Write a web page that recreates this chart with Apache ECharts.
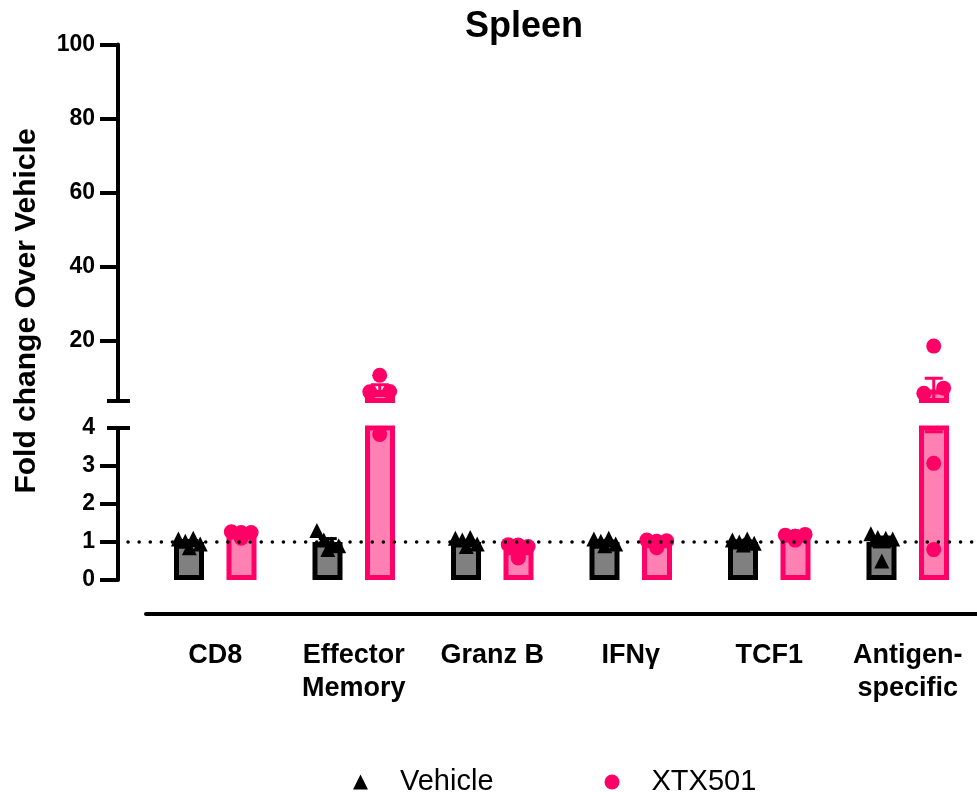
<!DOCTYPE html>
<html><head><meta charset="utf-8">
<script src="https://cdn.jsdelivr.net/npm/echarts@6/dist/echarts.min.js"></script>
<style>html,body{margin:0;padding:0;background:#fff}#c{width:977px;height:792px}</style>
</head><body><div id="c"></div>
<script>
// ---------------- data ----------------
const categories = ['CD8', 'Effector\nMemory', 'Granz B', 'IFNγ', 'TCF1', 'Antigen-\nspecific'];
const vehicleMean = [1.0, 1.0, 1.0, 1.0, 1.0, 1.0];
const vehicleSem  = [0.04, 0.09, 0.04, 0.03, 0.03, 0.13];
const xtxMean     = [1.2, 6.8, 0.78, 0.97, 1.12, 6.95];
const xtxSem      = [0.03, 1.45, 0.08, 0.04, 0.03, 3.05];
const vehiclePoints = [
  [1.08, 1.02, 1.10, 0.95, 0.85],
  [1.30, 1.05, 0.95, 0.90, 0.80],
  [1.10, 1.05, 1.12, 0.95, 0.88],
  [1.08, 1.02, 1.10, 0.95, 0.90],
  [1.05, 1.00, 1.08, 0.97, 0.92],
  [1.22, 1.12, 1.10, 1.08, 0.50]
];
const xtxPoints = [
  [1.25, 1.27, 1.25, 1.22, 1.10],
  [10.8, 6.30, 6.40, 3.83],
  [0.92, 0.93, 0.88, 0.62, 0.58],
  [1.02, 1.05, 1.03, 1.00, 0.85],
  [1.15, 1.18, 1.20, 1.15, 1.05],
  [18.65, 5.90, 7.30, 3.07, 0.80]
];
const upperTicks = [20, 40, 60, 80, 100];
const lowerTickMarks = [0, 1, 2, 3];
const lowerTickLabels = [0, 1, 2, 3, 4];
const breakValue = 4;
const refLineValue = 1;

// ---------------- layout / style ----------------
const CAT_W = 140, N = categories.length, PLOT_W = CAT_W * N;
const BAR_OFF = 26.25;
const vehJitter = [-11, -4, 4, 11, 0];
const xtxJitter = [0, -10, 10, 0, 0];
const PINK = '#FF0066', PINK_FILL = '#FF80B3', GRAY = '#808080', BLACK = '#000';
const FONT = '"Liberation Sans", Arial, Helvetica, sans-serif';

function xc(i, side, j, jit) { return CAT_W * i + CAT_W / 2 + side * BAR_OFF + (jit ? jit[j % jit.length] : 0); }
function pts(arr, side, jit) {
  const out = [];
  arr.forEach((g, i) => g.forEach((v, j) => out.push([xc(i, side, j, jit), v])));
  return out;
}
function errData(means, sems, side, colorFlag) {
  return means.map((m, i) => [xc(i, side), m - sems[i], m + sems[i], colorFlag]);
}
function renderErr(params, api) {
  const x = api.value(0), lo = api.value(1), hi = api.value(2);
  const color = api.value(3) ? PINK : BLACK;
  const a = api.coord([x, hi]), b = api.coord([x, lo]);
  const s = { stroke: color, lineWidth: 3 };
  const h = 9;
  return { type: 'group', children: [
    { type: 'line', shape: { x1: a[0], y1: a[1], x2: b[0], y2: b[1] }, style: s },
    { type: 'line', shape: { x1: a[0] - h, y1: a[1], x2: a[0] + h, y2: a[1] }, style: s },
    { type: 'line', shape: { x1: b[0] - h, y1: b[1], x2: b[0] + h, y2: b[1] }, style: s }
  ]};
}

const GRID_L = 146, UP_TOP = 44.4, UP_H = 356, LO_TOP = 428, LO_H = 152;

const axisLineStyle = { color: BLACK, width: 4 };
const labelStyle = { color: BLACK, fontWeight: 'bold', fontSize: 23, fontFamily: FONT };

const option = {
  animation: false,
  backgroundColor: '#fff',
  grid: [
    { left: GRID_L, top: UP_TOP, width: PLOT_W, height: UP_H },
    { left: GRID_L, top: LO_TOP, width: PLOT_W, height: LO_H },
    { left: 128, top: LO_TOP, width: 860, height: LO_H }
  ],
  xAxis: [
    { type: 'category', gridIndex: 0, data: categories, show: false },
    { type: 'value', gridIndex: 0, min: 0, max: PLOT_W, show: false },
    { type: 'category', gridIndex: 1, data: categories, offset: 34,
      axisLine: { onZero: false, lineStyle: axisLineStyle },
      axisTick: { alignWithLabel: true, length: 14, lineStyle: { color: BLACK, width: 3 } },
      axisLabel: { color: BLACK, fontWeight: 'bold', fontSize: 27, fontFamily: FONT, margin: 25, lineHeight: 33, interval: 0 } },
    { type: 'value', gridIndex: 1, min: 0, max: PLOT_W, show: false },
    { type: 'value', gridIndex: 2, min: 0, max: 1, show: false }
  ],
  yAxis: [
    { type: 'value', gridIndex: 0, position: 'left', min: breakValue, max: 100, offset: 28, splitLine: { show: false },
      axisLine: { show: true, onZero: false, lineStyle: axisLineStyle },
      axisTick: { show: true, length: 18, lineStyle: { color: BLACK, width: 4 }, customValues: upperTicks },
      axisLabel: { ...labelStyle, margin: 23, customValues: upperTicks } },
    { type: 'value', gridIndex: 0, position: 'left', min: breakValue, max: 100, offset: 16, splitLine: { show: false },
      axisLine: { show: false, onZero: false }, axisLabel: { show: false },
      axisTick: { show: true, length: 23, lineStyle: { color: BLACK, width: 4 }, customValues: [breakValue] } },
    { type: 'value', gridIndex: 1, position: 'left', min: 0, max: breakValue, offset: 28, splitLine: { show: false },
      axisLine: { show: true, onZero: false, lineStyle: axisLineStyle },
      axisTick: { show: true, length: 18, lineStyle: { color: BLACK, width: 4 }, customValues: lowerTickMarks },
      axisLabel: { ...labelStyle, margin: 23, customValues: lowerTickLabels } },
    { type: 'value', gridIndex: 1, position: 'left', min: 0, max: breakValue, offset: 16, splitLine: { show: false },
      axisLine: { show: false, onZero: false }, axisLabel: { show: false },
      axisTick: { show: true, length: 23, lineStyle: { color: BLACK, width: 4 }, customValues: [breakValue] } },
    { type: 'value', gridIndex: 2, position: 'left', min: 0, max: breakValue, show: false }
  ],
  legend: {
    left: 348, top: 762, itemWidth: 15, itemHeight: 15, itemGap: 111,
    textStyle: { color: BLACK, fontSize: 29, fontFamily: FONT, padding: [0, 0, 0, 27], lineHeight: 30 },
    data: [ { name: 'Vehicle', icon: 'triangle' }, { name: 'XTX501', icon: 'circle' } ]
  },
  graphic: [
    { type: 'text', x: 524, y: 27, style: { text: 'Spleen', fill: BLACK, font: 'bold 36px ' + FONT, textAlign: 'center', textVerticalAlign: 'middle' } },
    { type: 'text', x: 27, y: 311, rotation: Math.PI / 2, style: { text: 'Fold change Over Vehicle', fill: BLACK, font: 'bold 30px ' + FONT, textAlign: 'center', textVerticalAlign: 'middle' } }
  ],
  series: [
    { name: 'vb', type: 'bar', xAxisIndex: 0, yAxisIndex: 0, barWidth: 30, barGap: '75%', clip: true, silent: true,
      data: vehicleMean.map(v => v > breakValue ? v : '-'),
      itemStyle: { color: GRAY, borderColor: BLACK, borderWidth: 5 } },
    { name: 'xb', type: 'bar', xAxisIndex: 0, yAxisIndex: 0, barWidth: 30, barGap: '75%', clip: true, silent: true,
      data: xtxMean.map(v => v > breakValue ? v : '-'),
      itemStyle: { color: PINK_FILL, borderColor: PINK, borderWidth: 5 } },
    { name: 'vb', type: 'bar', xAxisIndex: 2, yAxisIndex: 2, barWidth: 30, barGap: '75%', clip: true, silent: true,
      data: vehicleMean, itemStyle: { color: GRAY, borderColor: BLACK, borderWidth: 5 } },
    { name: 'xb', type: 'bar', xAxisIndex: 2, yAxisIndex: 2, barWidth: 30, barGap: '75%', clip: true, silent: true,
      data: xtxMean, itemStyle: { color: PINK_FILL, borderColor: PINK, borderWidth: 5 } },
    { name: 'ref', type: 'line', xAxisIndex: 4, yAxisIndex: 4, silent: true, symbol: 'none', z: 5, data: [],
      markLine: { silent: true, symbol: 'none', label: { show: false }, animation: false,
        lineStyle: { color: BLACK, width: 3.5, type: [0.1, 11], cap: 'round' },
        data: [{ yAxis: refLineValue }] } },
    { name: 've', type: 'custom', xAxisIndex: 1, yAxisIndex: 0, clip: true, silent: true, z: 3, renderItem: renderErr, data: errData(vehicleMean, vehicleSem, -1, 0) },
    { name: 'xe', type: 'custom', xAxisIndex: 1, yAxisIndex: 0, clip: true, silent: true, z: 3, renderItem: renderErr, data: errData(xtxMean, xtxSem, 1, 1) },
    { name: 've', type: 'custom', xAxisIndex: 3, yAxisIndex: 2, clip: true, silent: true, z: 3, renderItem: renderErr, data: errData(vehicleMean, vehicleSem, -1, 0) },
    { name: 'xe', type: 'custom', xAxisIndex: 3, yAxisIndex: 2, clip: true, silent: true, z: 3, renderItem: renderErr, data: errData(xtxMean, xtxSem, 1, 1) },
    { name: 'Vehicle', type: 'scatter', xAxisIndex: 1, yAxisIndex: 0, clip: true, z: 4, symbol: 'triangle', symbolSize: 15,
      itemStyle: { color: BLACK, opacity: 1 }, data: pts(vehiclePoints, -1, vehJitter).filter(p => p[1] >= breakValue) },
    { name: 'XTX501', type: 'scatter', xAxisIndex: 1, yAxisIndex: 0, clip: true, z: 4, symbol: 'circle', symbolSize: 15,
      itemStyle: { color: PINK, opacity: 1 }, data: pts(xtxPoints, 1, xtxJitter).filter(p => p[1] >= breakValue) },
    { name: 'Vehicle', type: 'scatter', xAxisIndex: 3, yAxisIndex: 2, clip: true, z: 4, symbol: 'triangle', symbolSize: 15,
      itemStyle: { color: BLACK, opacity: 1 }, data: pts(vehiclePoints, -1, vehJitter).filter(p => p[1] <= breakValue) },
    { name: 'XTX501', type: 'scatter', xAxisIndex: 3, yAxisIndex: 2, clip: true, z: 4, symbol: 'circle', symbolSize: 15,
      itemStyle: { color: PINK, opacity: 1 }, data: pts(xtxPoints, 1, xtxJitter).filter(p => p[1] <= breakValue) }
  ]
};

const chart = echarts.init(document.getElementById('c'), null, { renderer: 'canvas' });
chart.setOption(option);
</script>
</body></html>
